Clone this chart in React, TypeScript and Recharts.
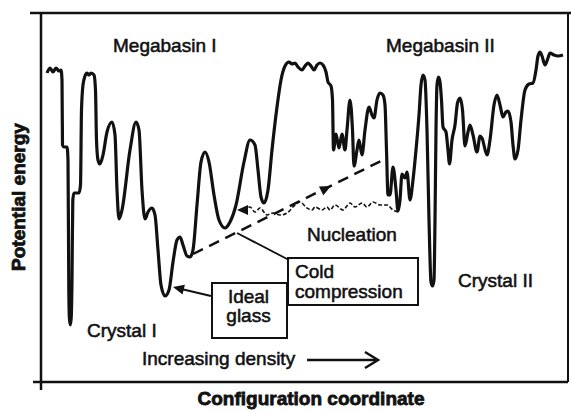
import React from 'react';
import { ComposedChart, Line, XAxis, YAxis, ReferenceLine, ReferenceDot, ReferenceArea } from 'recharts';

// energy landscape (configuration coordinate / potential energy, arbitrary units)
const coord = [
  6, 9, 12, 15, 18, 20, 21, 21.5, 23, 26,
  27, 27.8, 28.4, 29.3, 30.2, 31, 31.8, 33, 38, 39.5,
  40.5, 42, 44, 46, 48, 50, 53, 54.5, 55.5, 57,
  59, 62, 66, 71, 74, 76, 78, 81, 89, 95,
  98, 101, 104, 107, 111, 114, 117, 120, 124, 128,
  132, 136, 139, 142, 146, 149, 152, 156, 160, 164,
  168, 173, 178, 184, 189, 195, 203, 209, 214, 217,
  220, 223, 227, 231, 236, 240, 244, 248, 251, 254,
  257, 261, 264, 267, 270, 273, 276, 279, 282, 285,
  287, 290, 291.5, 292.5, 295, 298, 301, 304, 306, 309,
  311.5, 313, 316, 318, 321, 324, 328, 331, 333, 336,
  339, 342, 344, 345.5, 347, 349, 352, 355, 357, 359,
  361, 364, 366, 369, 372, 375, 378, 380, 382, 384,
  386, 388, 390, 391.5, 393, 394, 395, 396, 397.5, 399,
  400.5, 402, 405, 407, 408.5, 411, 414, 416.5, 419, 421.5,
  424, 427, 429, 432, 436, 439, 441, 446, 449, 453,
  456, 459, 462, 465, 467, 470, 472, 474, 477, 480,
  484, 488, 492, 495, 497, 499, 501, 504, 507, 509,
  513, 517, 522,
];
const energy = [
  309, 314, 310, 314, 311, 312, 302, 237, 235, 235,
  222, 92, 64, 57, 64, 102, 182, 189, 189, 197,
  272, 297, 306, 309, 307, 309, 307, 292, 242, 222,
  218, 227, 250, 260, 247, 192, 163, 172, 232, 260,
  252, 192, 163, 170, 174, 167, 132, 97, 86, 92,
  120, 142, 145, 137, 126, 125, 132, 177, 220, 230,
  220, 187, 162, 154, 160, 177, 220, 242, 237, 212,
  185, 179, 192, 232, 275, 302, 316, 320, 318, 319,
  315, 312, 316, 319, 316, 312, 317, 319, 317, 310,
  300, 296, 282, 232, 248, 234, 248, 232, 252, 282,
  252, 216, 232, 242, 227, 252, 275, 267, 264, 282,
  289, 287, 277, 232, 187, 187, 215, 192, 171, 182,
  208, 204, 210, 182, 202, 232, 267, 297, 307, 302,
  252, 162, 100, 96, 102, 162, 252, 297, 305, 300,
  282, 255, 250, 232, 218, 242, 257, 279, 284, 272,
  236, 250, 257, 247, 230, 246, 244, 227, 242, 277,
  287, 277, 265, 270, 271, 260, 237, 223, 232, 262,
  292, 298, 299, 312, 326, 330, 326, 317, 324, 329,
  327, 326, 327,
];

// nucleation path (dotted wavy line)
const nucCoord = [202, 209, 214, 219, 226, 232, 239, 246, 254, 259, 266, 271, 274, 281, 286, 289, 294, 302, 309, 314, 321, 326, 332, 339, 346, 352, 357];
const nucEnergy = [172, 175, 170, 174, 167, 169, 167, 169, 177, 180, 174, 172, 175, 172, 175, 172, 177, 172, 179, 175, 179, 175, 180, 177, 177, 172, 170];

// cold compression path (dashed)
const compCoord = [152, 346];
const compEnergy = [128, 224];

const toRows = (xs: number[], ys: number[]) => xs.map((x, i) => ({ x, y: ys[i] }));
const curve = toRows(coord, energy);
const nucleation = toRows(nucCoord, nucEnergy);
const compression = toRows(compCoord, compEnergy);

const FONT = '"Liberation Sans", Arial, sans-serif';
const INK = '#111';

const label = (lines: string[], anchor: 'start' | 'middle', gap = 19, bold = false, rotate = false) =>
  (p: any) => (
    <text
      x={p.cx}
      y={p.cy}
      textAnchor={anchor}
      fontFamily={FONT}
      fontSize={19}
      fontWeight={bold ? 700 : 400}
      fill={INK}
      stroke={INK}
      strokeWidth={bold ? 0.8 : 0.55}
      transform={rotate ? `rotate(-90 ${p.cx} ${p.cy})` : undefined}
    >
      {lines.map((t, i) => (
        <tspan key={i} x={p.cx} dy={i === 0 ? 0 : gap}>{t}</tspan>
      ))}
    </text>
  );

// arrowhead pointing along the data direction (dx, dy); 1 unit = 1 px on both axes
const head = (dx: number, dy: number, open = false) => (p: any) => {
  const ang = (Math.atan2(-dy, dx) * 180) / Math.PI;
  return open ? (
    <polyline
      points="-13,-8 0,0 -13,8"
      fill="none"
      stroke={INK}
      strokeWidth={2.5}
      transform={`translate(${p.cx},${p.cy}) rotate(${ang})`}
    />
  ) : (
    <polygon
      points="0,0 -11,-5 -11,5"
      fill={INK}
      transform={`translate(${p.cx},${p.cy}) rotate(${ang})`}
    />
  );
};

export default function App() {
  return (
    <div style={{ position: 'absolute', left: 0, top: 0, background: '#fff' }}>
      <ComposedChart width={571} height={412} margin={{ top: 13, right: 3, left: 0, bottom: 0 }}>
        <XAxis
          type="number"
          dataKey="x"
          domain={[0, 527]}
          ticks={[266]}
          tick={false}
          tickSize={7}
          height={30}
          axisLine={{ stroke: INK, strokeWidth: 2.5 }}
          tickLine={{ stroke: INK, strokeWidth: 2 }}
        />
        <YAxis
          type="number"
          dataKey="y"
          domain={[0, 369]}
          ticks={[182]}
          tick={false}
          tickSize={7}
          width={41}
          axisLine={{ stroke: INK, strokeWidth: 2.5 }}
          tickLine={{ stroke: INK, strokeWidth: 2 }}
        />

        {/* frame */}
        <ReferenceLine segment={[{ x: -11, y: 369 }, { x: 530, y: 369 }]} stroke={INK} strokeWidth={2.5} ifOverflow="visible" />
        <ReferenceLine segment={[{ x: 527, y: 0 }, { x: 527, y: 369 }]} stroke={INK} strokeWidth={2} ifOverflow="visible" />
        <ReferenceLine segment={[{ x: 0, y: -8 }, { x: 0, y: 0 }]} stroke={INK} strokeWidth={2.5} ifOverflow="visible" />
        <ReferenceLine segment={[{ x: -8, y: 0 }, { x: 0, y: 0 }]} stroke={INK} strokeWidth={2.5} ifOverflow="visible" />

        {/* boxes */}
        <ReferenceArea x1={171} x2={246} y1={44} y2={99} fill="#fff" fillOpacity={1} stroke={INK} strokeWidth={2} ifOverflow="visible" />
        <ReferenceArea x1={247} x2={377} y1={77} y2={124} fill="#fff" fillOpacity={1} stroke={INK} strokeWidth={2} ifOverflow="visible" />

        {/* pointers */}
        <ReferenceLine segment={[{ x: 170, y: 86 }, { x: 136, y: 94 }]} stroke={INK} strokeWidth={2} ifOverflow="visible" />
        <ReferenceLine segment={[{ x: 196, y: 149 }, { x: 248, y: 122 }]} stroke={INK} strokeWidth={1.8} ifOverflow="visible" />
        <ReferenceLine segment={[{ x: 266, y: 22 }, { x: 336, y: 22 }]} stroke={INK} strokeWidth={2.5} ifOverflow="visible" />

        <Line data={curve} dataKey="y" type="monotone" stroke={INK} strokeWidth={3.2} dot={false} activeDot={false} isAnimationActive={false} />
        <Line data={compression} dataKey="y" type="linear" stroke={INK} strokeWidth={2.5} strokeDasharray="11 7" dot={false} activeDot={false} isAnimationActive={false} />
        <Line data={nucleation} dataKey="y" type="monotone" stroke={INK} strokeWidth={1.6} strokeDasharray="4 2" dot={false} activeDot={false} isAnimationActive={false} />

        {/* arrowheads */}
        <ReferenceDot x={290} y={196} r={0} ifOverflow="visible" shape={head(194, 96)} />
        <ReferenceDot x={196} y={172} r={0} ifOverflow="visible" shape={head(-1, 0)} />
        <ReferenceDot x={132} y={95} r={0} ifOverflow="visible" shape={head(-38, 9)} />
        <ReferenceDot x={337} y={22} r={0} ifOverflow="visible" shape={head(1, 0, true)} />

        {/* text */}
        <ReferenceDot x={72} y={330} r={0} ifOverflow="visible" shape={label(['Megabasin I'], 'start')} />
        <ReferenceDot x={345} y={330} r={0} ifOverflow="visible" shape={label(['Megabasin II'], 'start')} />
        <ReferenceDot x={46} y={45} r={0} ifOverflow="visible" shape={label(['Crystal I'], 'start')} />
        <ReferenceDot x={417} y={95} r={0} ifOverflow="visible" shape={label(['Crystal II'], 'start')} />
        <ReferenceDot x={266} y={141} r={0} ifOverflow="visible" shape={label(['Nucleation'], 'start')} />
        <ReferenceDot x={254} y={104} r={0} ifOverflow="visible" shape={label(['Cold', 'compression'], 'start', 20)} />
        <ReferenceDot x={207.5} y={79} r={0} ifOverflow="visible" shape={label(['Ideal', 'glass'], 'middle', 19)} />
        <ReferenceDot x={101} y={17} r={0} ifOverflow="visible" shape={label(['Increasing density'], 'start')} />
        <ReferenceDot x={270} y={-23} r={0} ifOverflow="visible" shape={label(['Configuration coordinate'], 'middle', 19, true)} />
        <ReferenceDot x={-16} y={185} r={0} ifOverflow="visible" shape={label(['Potential energy'], 'middle', 19, true, true)} />
      </ComposedChart>
    </div>
  );
}
